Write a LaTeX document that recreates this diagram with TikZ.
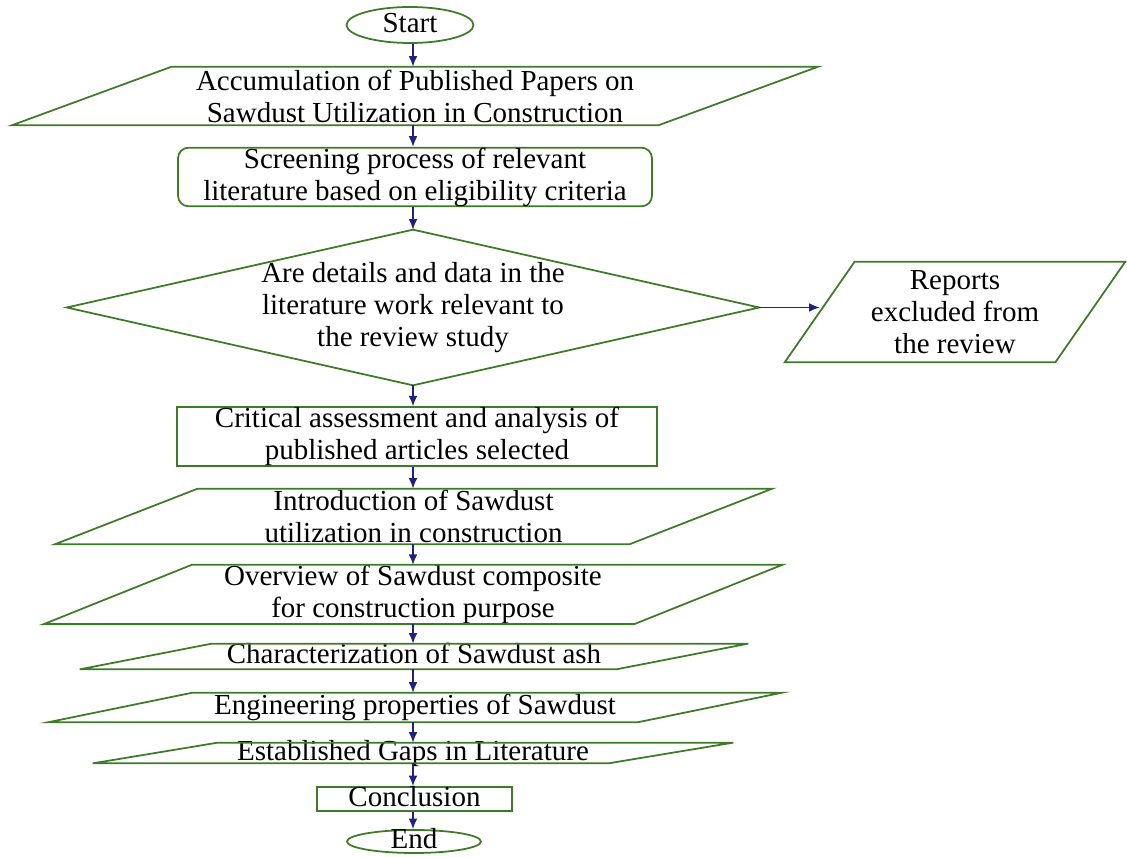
\documentclass[tikz,border=0pt]{standalone}
\usepackage{fontspec}
\setmainfont{Liberation Serif}
\usetikzlibrary{shapes.geometric, arrows.meta}
\definecolor{boxgreen}{RGB}{62, 122, 40}
\definecolor{arrownavy}{RGB}{30, 35, 125}
\tikzset{
  boxtext/.style={font=\fontsize{16.5}{18.2}\selectfont, align=center, inner sep=0pt},
  ovalbox/.style={boxtext, ellipse, draw=boxgreen, line width=1pt},
  plainbox/.style={boxtext, rectangle, draw=boxgreen, line width=1pt},
  shapebox/.style={boxtext, rectangle},
  lowtext/.style={text height=8pt, text depth=0pt},
  edgeline/.style={draw=boxgreen, line width=1pt},
  flow/.style={draw=arrownavy, line width=0.8pt, -{Latex[length=6pt, width=5pt]}}
}
% slanted outline round a named box: node name, horizontal shift of the edges
\newcommand{\slantbox}[2]{%
  \draw[edgeline] (#1.south west) -- ([xshift=-#2]#1.south east) -- (#1.north east) -- ([xshift=#2]#1.north west) -- cycle;}

\begin{document}
\begin{tikzpicture}[x=0.02cm, y=-0.02cm]
  \useasboundingbox (0,0) rectangle (1127,857);
  \coordinate (axis) at (413,0);

  % Start
  \node[ovalbox, lowtext, minimum width=2.54cm, minimum height=0.72cm] (start) at (410,25) {Start};

  % Accumulation
  \node[shapebox, minimum width=16.12cm, minimum height=1.16cm] (collect) at (415,96) {Accumulation of Published Papers on\\Sawdust Utilization in Construction};
  \slantbox{collect}{3.2cm}

  % Screening
  \node[plainbox, rounded corners=6pt, minimum width=9.48cm, minimum height=1.16cm] (screen) at (415,177) {Screening process of relevant\\literature based on eligibility criteria};

  % Decision
  \node[shapebox, minimum width=13.84cm, minimum height=3.1cm] (check) at (413,307.5) {Are details and data in the\\literature work relevant to\\the review study};
  \draw[edgeline] (check.north) -- (check.east) -- (check.south) -- (check.west) -- cycle;

  % Excluded reports
  \node[shapebox, minimum width=6.8cm, minimum height=2cm] (excluded) at (955,312) {Reports\\excluded from\\the review};
  \slantbox{excluded}{1.4cm}
  \coordinate (excluded-in) at ([xshift=0.7cm]excluded.west);
  \draw[flow] (check.east) -- (check.east -| excluded-in);

  % Critical assessment
  \node[plainbox, minimum width=9.6cm, minimum height=1.14cm] (assess) at (417,436.5) {Critical assessment and analysis of\\published articles selected};

  % Introduction
  \node[shapebox, minimum width=14.34cm, minimum height=1.1cm] (intro) at (413.5,516.5) {Introduction of Sawdust\\utilization in construction};
  \slantbox{intro}{2.86cm}

  % Overview
  \node[shapebox, minimum width=14.76cm, minimum height=1.1cm] (overview) at (413,594.5) {Overview of Sawdust composite\\for construction purpose};
  \slantbox{overview}{2.96cm}

  % Characterization
  \node[shapebox, lowtext, minimum width=13.36cm, minimum height=0.5cm] (ashchar) at (414,656.5) {Characterization of Sawdust ash};
  \slantbox{ashchar}{2.64cm}

  % Engineering properties
  \node[shapebox, lowtext, minimum width=14.68cm, minimum height=0.58cm] (props) at (415,707.5) {Engineering properties of Sawdust};
  \slantbox{props}{2.9cm}

  % Gaps
  \node[shapebox, lowtext, minimum width=12.8cm, minimum height=0.4cm] (gaps) at (413,753) {Established Gaps in Literature};
  \slantbox{gaps}{2.5cm}

  % Conclusion
  \node[plainbox, lowtext, minimum width=3.9cm, minimum height=0.48cm] (concl) at (414.5,799) {Conclusion};

  % End
  \node[ovalbox, lowtext, minimum width=2.68cm, minimum height=0.46cm] (finish) at (414,841.5) {End};

  % main flow
  \foreach \a/\b in {start/collect, collect/screen, screen/check, check/assess, assess/intro,
                     intro/overview, overview/ashchar, ashchar/props, props/gaps, gaps/concl, concl/finish}
    \draw[flow] (axis |- \a.south) -- (axis |- \b.north);
\end{tikzpicture}
\end{document}
